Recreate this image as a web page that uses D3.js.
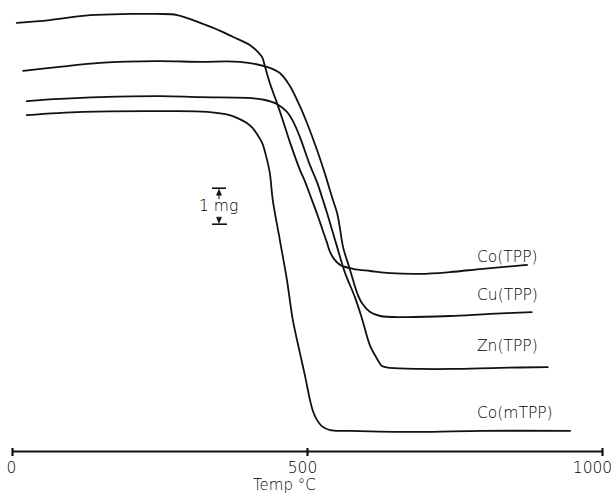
<!DOCTYPE html>
<html>
<head>
<meta charset="utf-8">
<script src="https://cdn.jsdelivr.net/npm/d3@7"></script>
<style>
  html, body { margin: 0; padding: 0; background: #fff; }
  svg { display: block; }
  text { font-family: "DejaVu Sans", sans-serif; font-weight: 300; fill: #000; }
</style>
</head>
<body>
<svg id="chart" width="615" height="502"></svg>
<script>
// Thermogravimetric traces: temperature (°C) vs. sample mass (mg, arbitrary offset)
const seriesNames = ["Co(TPP)", "Cu(TPP)", "Zn(TPP)", "Co(mTPP)"];

const coTPP_T = [8, 64, 132, 200, 246, 280, 319, 353, 375, 403, 417, 424, 429, 437, 449, 459, 471, 488, 497, 507, 519, 527, 534, 539, 546, 556, 578, 607, 641, 692, 742, 798, 873];
const coTPP_m = [11.89, 11.97, 12.11, 12.14, 12.14, 12.11, 11.89, 11.67, 11.50, 11.28, 11.08, 10.94, 10.67, 10.22, 9.67, 9.19, 8.58, 7.81, 7.47, 7.03, 6.50, 6.11, 5.78, 5.53, 5.33, 5.17, 5.06, 5.00, 4.94, 4.92, 4.97, 5.06, 5.17];

const cuTPP_T = [19, 81, 149, 246, 319, 386, 432, 454, 471, 488, 500, 517, 531, 544, 551, 556, 561, 573, 585, 593, 607, 624, 663, 742, 810, 881];
const cuTPP_m = [10.56, 10.67, 10.78, 10.83, 10.81, 10.81, 10.67, 10.50, 10.14, 9.58, 9.11, 8.36, 7.67, 6.97, 6.61, 6.17, 5.67, 5.03, 4.39, 4.11, 3.86, 3.75, 3.72, 3.75, 3.81, 3.86];

const znTPP_T = [25, 81, 149, 251, 319, 398, 429, 449, 466, 476, 488, 505, 517, 527, 534, 551, 564, 581, 593, 607, 620, 627, 641, 692, 747, 827, 908];
const znTPP_m = [9.72, 9.78, 9.83, 9.86, 9.83, 9.81, 9.75, 9.64, 9.42, 9.17, 8.72, 7.94, 7.47, 6.97, 6.61, 5.67, 4.97, 4.28, 3.69, 2.92, 2.53, 2.36, 2.31, 2.28, 2.28, 2.31, 2.33];

const coMTPP_T = [25, 120, 263, 331, 369, 386, 398, 408, 415, 424, 431, 437, 442, 454, 466, 476, 488, 497, 505, 510, 517, 525, 539, 573, 686, 798, 946];
const coMTPP_m = [9.33, 9.42, 9.44, 9.42, 9.33, 9.22, 9.11, 8.97, 8.81, 8.56, 8.17, 7.72, 6.97, 5.86, 4.75, 3.64, 2.72, 2.06, 1.42, 1.11, 0.86, 0.69, 0.58, 0.56, 0.53, 0.56, 0.56];

const xTicks = [0, 500, 1000];
const xTitle = "Temp °C";
const scaleBarLabel = "1 mg";
const scaleBarMass = 1; // mg

const svg = d3.select("#chart");
svg.append("rect").attr("width", 615).attr("height", 502).attr("fill", "#fff");

const x = d3.scaleLinear().domain([0, 1000]).range([12, 602]);
const y = d3.scaleLinear().domain([0, 12]).range([451, 19]);

const series = [
  { name: seriesNames[0], T: coTPP_T, m: coTPP_m },
  { name: seriesNames[1], T: cuTPP_T, m: cuTPP_m },
  { name: seriesNames[2], T: znTPP_T, m: znTPP_m },
  { name: seriesNames[3], T: coMTPP_T, m: coMTPP_m }
];

const line = d3.line()
  .x(d => x(d[0]))
  .y(d => y(d[1]))
  .curve(d3.curveCatmullRom.alpha(0.5));

svg.append("g")
  .selectAll("path")
  .data(series)
  .join("path")
  .attr("d", s => line(s.T.map((t, i) => [t, s.m[i]])))
  .attr("fill", "none")
  .attr("stroke", "#111")
  .attr("stroke-width", 1.8)
  .attr("stroke-linejoin", "round")
  .attr("stroke-linecap", "round");

// curve labels, placed to the right of the plateaus
const labelPos = [[477, 262], [477, 300], [477, 351], [477, 418]];
svg.append("g")
  .selectAll("text")
  .data(series)
  .join("text")
  .attr("x", (s, i) => labelPos[i][0])
  .attr("y", (s, i) => labelPos[i][1])
  .attr("font-size", 15.5)
  .text(s => s.name);

// temperature axis
const axisY = y(0);
const axis = d3.axisBottom(x).tickValues(xTicks).tickSize(0).tickPadding(0).tickFormat(d3.format("d"));
const gAxis = svg.append("g").attr("transform", `translate(0,${axisY})`).call(axis);
gAxis.select(".domain").attr("stroke", "#111").attr("stroke-width", 2);
gAxis.selectAll(".tick text")
  .attr("font-family", "DejaVu Sans, sans-serif")
  .attr("font-weight", 300)
  .attr("font-size", 15.5)
  .attr("fill", "#000")
  .attr("dy", 0)
  .attr("y", 22)
  .attr("dx", d => d === 0 ? -1 : (d === 1000 ? -10 : -5));
gAxis.selectAll(".tick").append("line")
  .attr("y1", -3).attr("y2", 5)
  .attr("stroke", "#111").attr("stroke-width", 2.2);

svg.append("text")
  .attr("x", 253)
  .attr("y", 490)
  .attr("font-size", 15)
  .text(xTitle);

// 1 mg scale bar
const barX = 219;
const barTop = y(7.3);
const barBot = y(7.3 - scaleBarMass);
const gBar = svg.append("g").attr("stroke", "#111").attr("fill", "#111");
gBar.append("line").attr("x1", barX - 7).attr("x2", barX + 7).attr("y1", barTop).attr("y2", barTop).attr("stroke-width", 1.6);
gBar.append("line").attr("x1", barX - 7).attr("x2", barX + 8).attr("y1", barBot).attr("y2", barBot).attr("stroke-width", 1.6);
gBar.append("path").attr("d", `M${barX},${barTop + 1}L${barX - 2.5},${barTop + 7}L${barX + 2.5},${barTop + 7}Z`).attr("stroke-width", 0.6);
gBar.append("path").attr("d", `M${barX},${barBot - 1}L${barX - 2.5},${barBot - 7}L${barX + 2.5},${barBot - 7}Z`).attr("stroke-width", 0.6);
gBar.append("line").attr("x1", barX).attr("x2", barX).attr("y1", barTop + 7).attr("y2", barTop + 11).attr("stroke-width", 1);
svg.append("text")
  .attr("x", 199)
  .attr("y", 211)
  .attr("font-size", 15.5)
  .text(scaleBarLabel);
</script>
</body>
</html>
